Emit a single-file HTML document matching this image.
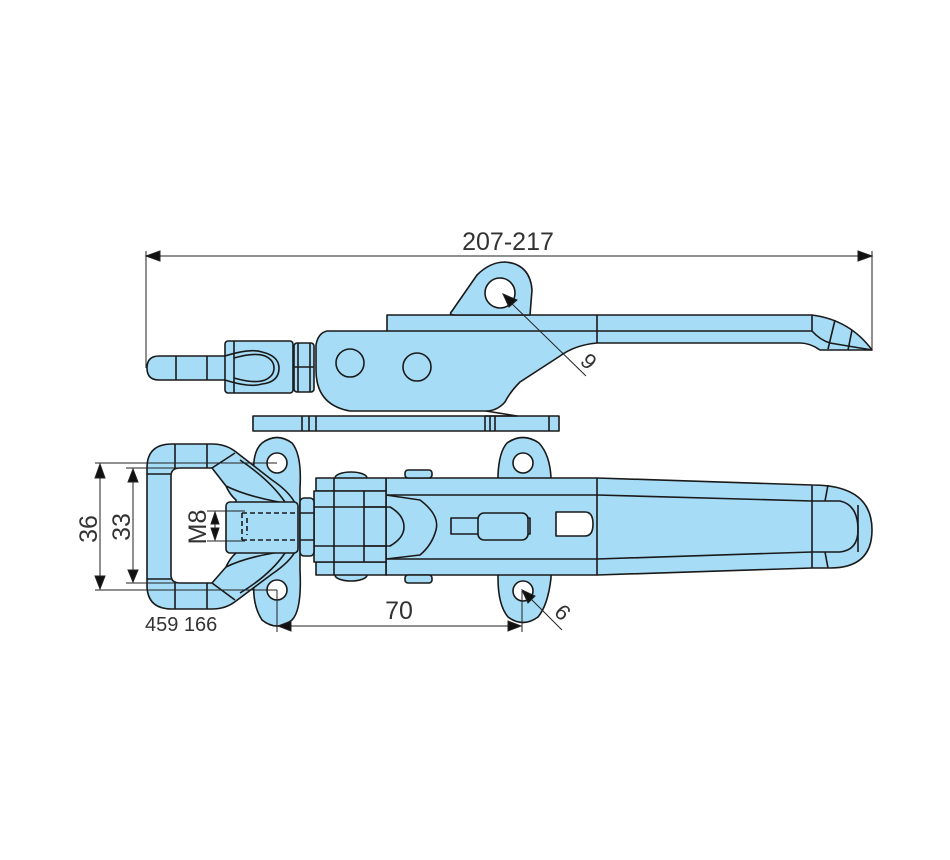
<!DOCTYPE html>
<html><head><meta charset="utf-8"><style>
html,body{margin:0;padding:0;background:#fff;}
svg{display:block;}
text{font-family:"Liberation Sans",sans-serif;fill:#333;}
</style></head><body>
<svg width="950" height="860" viewBox="0 0 950 860" xmlns="http://www.w3.org/2000/svg">
<g fill="#a6dcf6" stroke="#1a1a1a" stroke-width="1.6" stroke-linejoin="round">
<!-- ===== SIDE VIEW ===== -->
<rect x="253" y="416" width="306" height="15"/>
<path d="M327,331 L387,331 L387,315 L812,315 Q850,320 872,350 L820,350 Q810,343 800,343 L597,343 Q575,345 560,356 L520,382 Q510,392 505,402 Q498,410 488,411 L350,411 Q316,405 316,370 L316,345 Q318,333 327,331 Z"/>
<path d="M452,311 L477,275 Q490,262 505,262 Q530,264 532,290 L530,315 L455,315 Q448,315 452,311 Z"/>
<circle cx="500" cy="293" r="15" fill="#fff"/>
<line x1="387" y1="331" x2="812" y2="331" fill="none"/>
<line x1="597" y1="315" x2="597" y2="343" fill="none"/>
<path d="M812,315 L812,331 Q820,340 830,343 L872,350" fill="none"/>
<path d="M835,320 L828,349 M852,330 L848,350" fill="none"/>
<circle cx="350" cy="363" r="14"/>
<circle cx="417" cy="367" r="14"/>
<path d="M486,411 L517,416 L485,416" fill="none"/>
<path d="M302,416V431 M309,416V431 M316,416V431 M485,416V431 M490,416V431 M495,416V431 M549,416V431" fill="none"/>
<path d="M159,356 L228,356 L228,380 L159,380 Q147,380 147,368 Q147,356 159,356 Z"/>
<path d="M176,356V380 M207,356V380" fill="none"/>
<rect x="225" y="341" width="68" height="52" rx="3"/>
<path d="M234,341V393" fill="none"/>
<path d="M225,356 Q250,348 262,352 Q279,356 279,368 Q279,382 262,384 Q250,388 225,380" fill="none"/>
<path d="M234,358 Q255,352 265,356 Q274,360 274,368 Q274,376 265,380 Q255,384 234,378" fill="none"/>
<rect x="294" y="343" width="20" height="49" rx="3"/>
<path d="M294,367H314 M298,343V392 M310,343V392" fill="none"/>

<!-- ===== TOP VIEW ===== -->
<path d="M262,443 Q277,432 292,443 Q302,455 300,488 L300,570 Q302,610 292,620 Q277,632 262,620 Q252,605 254,580 L254,475 Q252,452 262,443 Z"/>
<circle cx="277" cy="463" r="10" fill="#fff"/>
<circle cx="277" cy="590" r="10" fill="#fff"/>
<path d="M507,443 Q523,432 539,443 Q550,455 551,478 L551,578 Q548,605 538,617 Q523,628 508,617 Q498,605 498,578 L498,475 Q499,452 507,443 Z"/>
<circle cx="523" cy="463" r="10" fill="#fff"/>
<circle cx="523" cy="591" r="10" fill="#fff"/>
<path d="M172,444 L212,444 Q226,444 236,452 L272,480 Q290,492 296,505 L296,550 Q290,562 272,574 L236,601 Q226,609 212,609 L172,609 Q147,609 147,585 L147,468 Q147,444 172,444 Z"/>
<path d="M180,468 L212,468 L226,486 Q230,495 236,500 L236,553 Q230,558 226,567 L212,583 L180,583 Q171,583 171,575 L171,476 Q171,468 180,468 Z" fill="#fff"/>
<path d="M175,444V468 M207,444V468 M175,583V609 M207,583V609 M147,474H171 M147,579H171 M212,468 L235,453 M212,583 L235,600" fill="none"/>
<path d="M226,486 Q250,498 296,505 M226,567 Q250,555 296,550 M240,460 Q270,480 285,502 M240,593 Q270,575 285,553" fill="none"/>
<rect x="226" y="502" width="72" height="51" rx="4"/>
<path d="M242,513H298 M242,540H298 M242,513V540 M247,518V535" fill="none" stroke-dasharray="5,3"/>
<path d="M386,478 L597,478 L812,485 Q872,485 872,530 Q872,568 830,568 L812,568 L597,575 L386,575 Z"/>
<path d="M386,495 L597,495 L812,501 L840,501 Q858,505 858,530 Q858,550 840,552 L812,552 L597,559 L386,559" fill="none"/>
<path d="M597,478V575 M812,485V568 M828,485 L825,501 M828,568 L825,552 M858,505V552" fill="none"/>
<path d="M386,495 L420,500 Q440,515 436,530 Q432,545 420,555 L386,559" fill="none"/>
<path d="M556,512 L585,512 Q593,512 593,524 Q593,536 585,536 L556,536 Z" fill="#fff"/>
<rect x="451" y="518" width="79" height="16"/>
<rect x="478" y="513" width="50" height="27" rx="6"/>
<rect x="405" y="470" width="27" height="8" rx="3"/>
<rect x="405" y="575" width="27" height="8" rx="3"/>
<ellipse cx="351" cy="478" rx="16" ry="6"/>
<ellipse cx="351" cy="575" rx="16" ry="6"/>
<rect x="316" y="478" width="70" height="13"/>
<rect x="316" y="562" width="70" height="13"/>
<rect x="314" y="491" width="72" height="71"/>
<path d="M334,491V562 M364,491V562 M314,507H386 M314,546H386 M334,478V491 M334,562V575" fill="none"/>
<path d="M364,507 L390,507 Q404,515 404,527 Q404,538 390,546 L364,546" fill="none"/>
<rect x="300" y="498" width="14" height="58" rx="4"/>
<path d="M300,513H314 M300,540H314" fill="none"/>
</g>

<g stroke="#222" stroke-width="1" fill="none">
<line x1="146" y1="251" x2="146" y2="368"/>
<line x1="872" y1="251" x2="872" y2="350"/>
<line x1="160" y1="256" x2="858" y2="256"/>
<path d="M146,256 L160,251 L160,261 Z M872,256 L858,251 L858,261 Z" fill="#111"/>
<line x1="505" y1="297" x2="586" y2="376"/>
<path d="M503,294 L517,300 L509,307 Z" fill="#111"/>
<line x1="95" y1="463" x2="277" y2="463"/>
<line x1="95" y1="590" x2="277" y2="590"/>
<line x1="126" y1="468" x2="180" y2="468"/>
<line x1="126" y1="583" x2="180" y2="583"/>
<line x1="100" y1="478" x2="100" y2="576"/>
<path d="M100,464 L95,478 L105,478 Z M100,589 L95,576 L105,576 Z" fill="#111"/>
<line x1="133" y1="482" x2="133" y2="570"/>
<path d="M133,469 L128,482 L138,482 Z M133,582 L128,570 L138,570 Z" fill="#111"/>
<line x1="207" y1="511" x2="245" y2="511"/>
<line x1="207" y1="541" x2="245" y2="541"/>
<path d="M215,512 L211,524 L219,524 Z M215,540 L211,528 L219,528 Z" fill="#111"/>
<line x1="215" y1="524" x2="215" y2="528"/>
<line x1="277" y1="590" x2="277" y2="632"/>
<line x1="522" y1="591" x2="522" y2="632"/>
<line x1="291" y1="626" x2="508" y2="626"/>
<path d="M278,626 L291,621 L291,631 Z M521,626 L508,621 L508,631 Z" fill="#111"/>
<line x1="524" y1="592" x2="562" y2="630"/>
<path d="M522,590 L535,596 L528,603 Z" fill="#111"/>
</g>
<g>
<text x="508" y="250" font-size="25" text-anchor="middle">207-217</text>
<text x="0" y="8" font-size="22" transform="translate(589,361) rotate(45)" text-anchor="middle">9</text>
<text x="0" y="0" font-size="25" transform="translate(97,529) rotate(-90)" text-anchor="middle">36</text>
<text x="0" y="0" font-size="25" transform="translate(130,527) rotate(-90)" text-anchor="middle">33</text>
<text x="0" y="0" font-size="25" transform="translate(206,527) rotate(-90)" text-anchor="middle">M8</text>
<text x="399" y="619" font-size="25" text-anchor="middle">70</text>
<text x="0" y="8" font-size="22" transform="translate(563,612) rotate(45)" text-anchor="middle">6</text>
<text x="145" y="631" font-size="20">459 166</text>
</g>
</svg>
</body></html>
